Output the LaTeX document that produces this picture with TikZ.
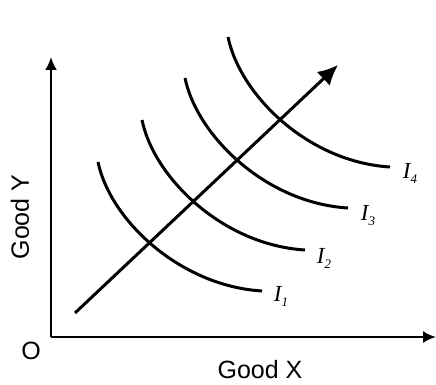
\documentclass[tikz,border=0pt]{standalone}
\usepackage{fontspec}
\setmainfont{Liberation Sans}
\newfontfamily\serifit{Liberation Serif}
\usetikzlibrary{arrows.meta,calc}
\tikzset{
  axis/.style={line width=2.2pt,-{Latex[length=13pt,width=12pt]}},
  expline/.style={line width=3pt,-{Latex[length=20pt,width=19pt]}},
  icurve/.style={line width=3pt},
  axlabel/.style={font=\fontsize{25}{28}\selectfont,inner sep=0pt},
  ilabel/.style={font=\serifit\itshape\fontsize{23}{26}\selectfont,inner sep=0pt}
}
\newcommand{\isub}[1]{I\raisebox{-5pt}{\fontsize{13}{14}\selectfont #1}}
\begin{document}
\begin{tikzpicture}[x=1pt,y=-1pt]
\useasboundingbox (0,0) rectangle (436,385);
% axes
\coordinate (O) at (51,337);
\coordinate (ytop) at (51,57);
\coordinate (xend) at (436,337);
\draw[axis] (O) -- (ytop);
\draw[axis] (O) -- (xend);
\node[axlabel] (olab) at (31,351) {O};
\node[axlabel] (xlab) at (260,370) {Good X};
\node[axlabel,rotate=90] (ylab) at (20,217) {Good Y};
% indifference curves
\foreach \n/\sx/\sy/\ex/\ey in {1/98/162/262/291, 2/142/120/305/250, 3/185/78/348/208, 4/228/37/390/167}{
  \coordinate (s\n) at (\sx,\sy);
  \coordinate (e\n) at (\ex,\ey);
  \draw[icurve] (s\n) .. controls ($(s\n)+(12,58)$) and ($(e\n)+(-82,-5)$) .. (e\n);
}
\node[ilabel] (l1) at (281,296) {\isub{1}};
\node[ilabel] (l2) at (324,258) {\isub{2}};
\node[ilabel] (l3) at (368,216) {\isub{3}};
\node[ilabel] (l4) at (410,173) {\isub{4}};
% expansion path
\coordinate (a0) at (75,313);
\coordinate (a1) at (338,65);
\draw[expline] (a0) -- (a1);
\end{tikzpicture}
\end{document}
